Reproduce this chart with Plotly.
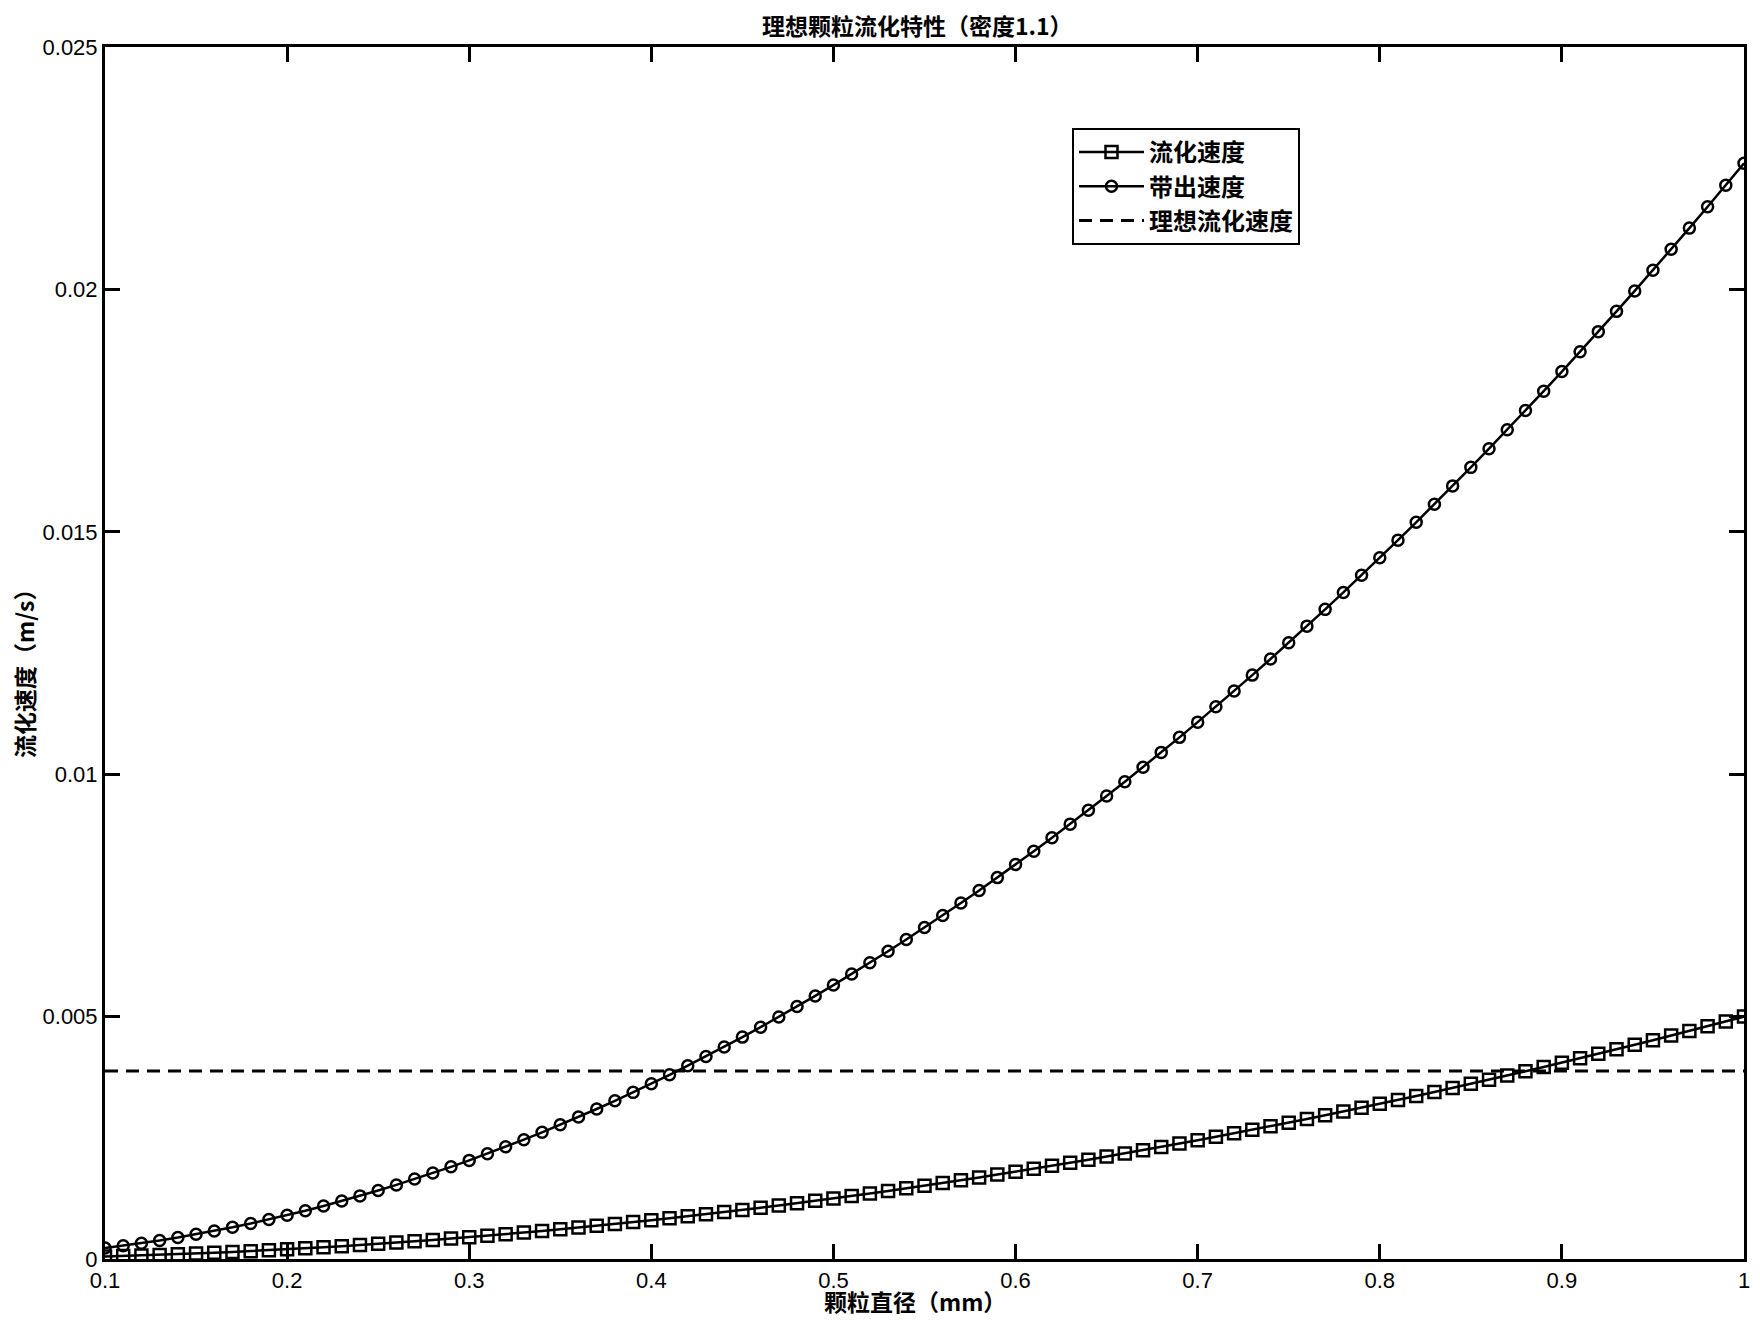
import plotly.graph_objects as go

# Particle diameter (mm)
diameter = [
    0.10, 0.11, 0.12, 0.13, 0.14, 0.15, 0.16, 0.17, 0.18, 0.19,
    0.20, 0.21, 0.22, 0.23, 0.24, 0.25, 0.26, 0.27, 0.28, 0.29,
    0.30, 0.31, 0.32, 0.33, 0.34, 0.35, 0.36, 0.37, 0.38, 0.39,
    0.40, 0.41, 0.42, 0.43, 0.44, 0.45, 0.46, 0.47, 0.48, 0.49,
    0.50, 0.51, 0.52, 0.53, 0.54, 0.55, 0.56, 0.57, 0.58, 0.59,
    0.60, 0.61, 0.62, 0.63, 0.64, 0.65, 0.66, 0.67, 0.68, 0.69,
    0.70, 0.71, 0.72, 0.73, 0.74, 0.75, 0.76, 0.77, 0.78, 0.79,
    0.80, 0.81, 0.82, 0.83, 0.84, 0.85, 0.86, 0.87, 0.88, 0.89,
    0.90, 0.91, 0.92, 0.93, 0.94, 0.95, 0.96, 0.97, 0.98, 0.99,
    1.00,
]

# 流化速度 (m/s) - squares
fluid_speed = [
    0.000050, 0.000061, 0.000072, 0.000085, 0.000098, 0.000113, 0.000128, 0.000145, 0.000162, 0.000181,
    0.000200, 0.000221, 0.000242, 0.000265, 0.000288, 0.000313, 0.000338, 0.000365, 0.000392, 0.000421,
    0.000450, 0.000481, 0.000512, 0.000545, 0.000578, 0.000613, 0.000648, 0.000685, 0.000722, 0.000761,
    0.000800, 0.000841, 0.000882, 0.000925, 0.000968, 0.001013, 0.001058, 0.001105, 0.001152, 0.001201,
    0.001250, 0.001301, 0.001352, 0.001405, 0.001458, 0.001513, 0.001568, 0.001625, 0.001682, 0.001741,
    0.001800, 0.001861, 0.001922, 0.001985, 0.002048, 0.002113, 0.002178, 0.002245, 0.002312, 0.002381,
    0.002450, 0.002521, 0.002592, 0.002665, 0.002738, 0.002813, 0.002888, 0.002965, 0.003042, 0.003121,
    0.003200, 0.003281, 0.003362, 0.003445, 0.003528, 0.003613, 0.003698, 0.003785, 0.003872, 0.003961,
    0.004050, 0.004141, 0.004232, 0.004325, 0.004418, 0.004513, 0.004608, 0.004705, 0.004802, 0.004901,
    0.005000,
]

# 带出速度 (m/s) - circles
carry_speed = [
    0.000226, 0.000273, 0.000325, 0.000382, 0.000443, 0.000509, 0.000579, 0.000653, 0.000732, 0.000816,
    0.000904, 0.000997, 0.001094, 0.001196, 0.001302, 0.001413, 0.001528, 0.001648, 0.001772, 0.001901,
    0.002034, 0.002172, 0.002314, 0.002461, 0.002613, 0.002769, 0.002929, 0.003094, 0.003263, 0.003437,
    0.003616, 0.003799, 0.003987, 0.004179, 0.004375, 0.004577, 0.004782, 0.004992, 0.005207, 0.005426,
    0.005650, 0.005878, 0.006111, 0.006348, 0.006590, 0.006837, 0.007087, 0.007343, 0.007603, 0.007867,
    0.008136, 0.008409, 0.008687, 0.008970, 0.009257, 0.009549, 0.009845, 0.010145, 0.010450, 0.010760,
    0.011074, 0.011393, 0.011716, 0.012044, 0.012376, 0.012713, 0.013054, 0.013400, 0.013750, 0.014105,
    0.014464, 0.014828, 0.015196, 0.015569, 0.015947, 0.016329, 0.016715, 0.017106, 0.017501, 0.017901,
    0.018306, 0.018715, 0.019129, 0.019547, 0.019969, 0.020397, 0.020828, 0.021264, 0.021705, 0.022150,
    0.022600,
]

# 理想流化速度 (m/s) - constant dashed line
ideal_speed = 0.00388
ideal_x = [0.10, 1.00]
ideal_y = [ideal_speed, ideal_speed]

x_ticks = [0.1, 0.2, 0.3, 0.4, 0.5, 0.6, 0.7, 0.8, 0.9, 1.0]
x_tick_labels = ["0.1", "0.2", "0.3", "0.4", "0.5", "0.6", "0.7", "0.8", "0.9", "1"]
y_ticks = [0, 0.005, 0.01, 0.015, 0.02, 0.025]
y_tick_labels = ["0", "0.005", "0.01", "0.015", "0.02", "0.025"]

CJK = "Noto Sans CJK SC"
NUM = "Liberation Sans"

fig = go.Figure()
fig.add_trace(go.Scatter(
    x=diameter, y=fluid_speed, name="流化速度", mode="lines+markers",
    line=dict(color="black", width=2.5),
    marker=dict(symbol="square-open", size=12, color="black", line=dict(width=2.5, color="black")),
))
fig.add_trace(go.Scatter(
    x=diameter, y=carry_speed, name="带出速度", mode="lines+markers",
    line=dict(color="black", width=2.5),
    marker=dict(symbol="circle-open", size=11, color="black", line=dict(width=2.5, color="black")),
))
fig.add_trace(go.Scatter(
    x=ideal_x, y=ideal_y, name="理想流化速度", mode="lines",
    line=dict(color="black", width=3, dash="13px,8px"),
))

# page body has an 8px margin, so the figure is drawn 8px in from the window edge
OFF = 8
W, H = 1760 - 2 * OFF, 1325 - 2 * OFF
L, T = 105 - OFF, 47 - OFF
R = W - (1744 - OFF)
B = H - (1259 - OFF)
PW, PH = W - L - R, H - T - B


def px(xw):
    return (xw - OFF - L) / PW


def py(yw):
    return (H - B - (yw - OFF)) / PH


axis_common = dict(
    showgrid=False, zeroline=False, showline=True, linecolor="black", linewidth=3,
    mirror="ticks", ticks="inside", ticklen=15, tickwidth=2.5, tickcolor="black",
    tickfont=dict(family=NUM, size=22, color="black"),
)

fig.update_xaxes(range=[0.1, 1.0], tickvals=x_ticks, ticktext=x_tick_labels, **axis_common)
fig.update_yaxes(range=[0, 0.025], tickvals=y_ticks, ticktext=y_tick_labels, **axis_common)

fig.update_layout(
    width=W, height=H,
    margin=dict(l=L, r=R, t=T, b=B, autoexpand=False),
    paper_bgcolor="white", plot_bgcolor="white",
    font=dict(family=f"{NUM}, {CJK}", color="black"),
    showlegend=True,
    legend=dict(
        x=px(1072), y=py(128), xanchor="left", yanchor="top",
        bgcolor="white", bordercolor="black", borderwidth=2,
        font=dict(family=CJK, size=24, color="black", weight="bold"),
        tracegroupgap=0, itemwidth=65,
    ),
    annotations=[
        dict(text="理想颗粒流化特性（密度1.1）", xref="paper", yref="paper",
             x=px(917), y=py(25),
             xanchor="center", yanchor="middle", showarrow=False,
             font=dict(family=CJK, size=23, color="black", weight="bold")),
        dict(text="颗粒直径（mm）", xref="paper", yref="paper",
             x=px(915), y=py(1301),
             xanchor="center", yanchor="middle", showarrow=False,
             font=dict(family=CJK, size=23, color="black", weight="bold")),
        dict(text="流化速度（m/s）", xref="paper", yref="paper",
             x=px(24), y=py(668),
             xanchor="center", yanchor="middle", showarrow=False, textangle=-90,
             font=dict(family=CJK, size=23, color="black", weight="bold")),
    ],
)

fig.write_html("out.html")
